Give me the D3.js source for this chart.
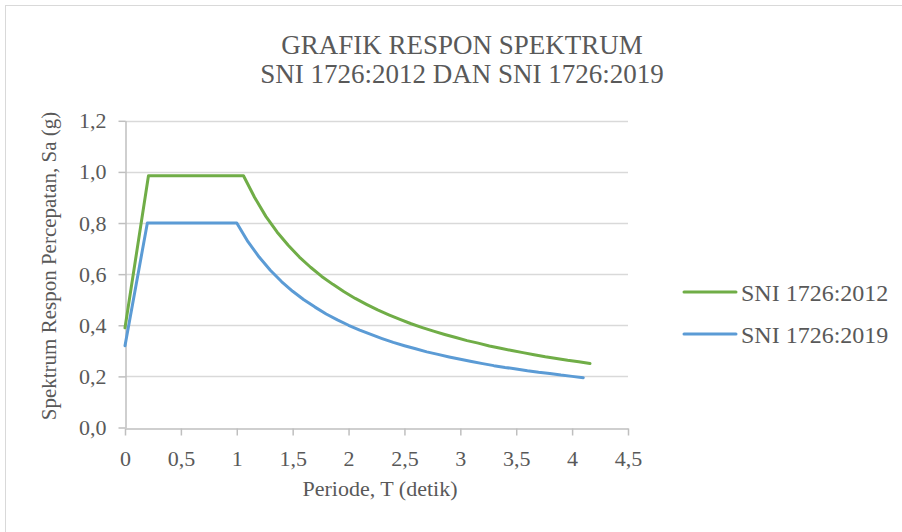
<!DOCTYPE html>
<html>
<head>
<meta charset="utf-8">
<script src="https://cdn.jsdelivr.net/npm/d3@7"></script>
<style>
  body { margin: 0; background: #fff; }
  svg text { font-family: "Liberation Serif", "Times New Roman", serif; fill: #595959; }
</style>
</head>
<body>
<div id="chart"></div>
<script>
// period T (s) and spectral acceleration Sa (g)
var t2012 = [0, 0.21, 1.06, 1.16, 1.26, 1.36, 1.46, 1.56, 1.66, 1.76, 1.86, 1.96, 2.06, 2.16, 2.26, 2.36,
  2.46, 2.56, 2.66, 2.76, 2.86, 2.96, 3.06, 3.16, 3.26, 3.36, 3.46, 3.56, 3.66, 3.76, 3.86, 3.96, 4.06, 4.16];
var sa2012 = [0.39, 0.985, 0.985, 0.90, 0.826, 0.765, 0.713, 0.667, 0.627, 0.591, 0.56, 0.531, 0.505, 0.482, 0.46, 0.441,
  0.423, 0.406, 0.391, 0.377, 0.364, 0.352, 0.34, 0.33, 0.319, 0.31, 0.301, 0.293, 0.285, 0.277, 0.27, 0.263, 0.257, 0.25];

var t2019 = [0, 0.2, 1.0, 1.1, 1.2, 1.3, 1.4, 1.5, 1.6, 1.7, 1.8, 1.9, 2.0, 2.1, 2.2, 2.3, 2.4, 2.5,
  2.6, 2.7, 2.8, 2.9, 3.0, 3.1, 3.2, 3.3, 3.4, 3.5, 3.6, 3.7, 3.8, 3.9, 4.0, 4.1];
var sa2019 = [0.32, 0.8, 0.8, 0.727, 0.667, 0.615, 0.571, 0.533, 0.5, 0.471, 0.444, 0.421, 0.4, 0.381, 0.364, 0.348, 0.333, 0.32,
  0.308, 0.296, 0.286, 0.276, 0.267, 0.258, 0.25, 0.242, 0.235, 0.229, 0.222, 0.216, 0.211, 0.205, 0.2, 0.195];

var seriesNames = ["SNI 1726:2012", "SNI 1726:2019"];
var colours = ["#70ad47", "#5b9bd5"];

var xTicks = [0, 0.5, 1, 1.5, 2, 2.5, 3, 3.5, 4, 4.5];
var xTickLabels = ["0", "0,5", "1", "1,5", "2", "2,5", "3", "3,5", "4", "4,5"];
var yTicks = [0, 0.2, 0.4, 0.6, 0.8, 1.0, 1.2];
var yTickLabels = ["0,0", "0,2", "0,4", "0,6", "0,8", "1,0", "1,2"];

var width = 902, height = 532;
var svg = d3.select("#chart").append("svg")
    .attr("width", width)
    .attr("height", height);

svg.append("rect")
    .attr("x", 5.5).attr("y", 5.5)
    .attr("width", 905).attr("height", 540)
    .attr("fill", "#fff")
    .attr("stroke", "#d9d9d9");

var x = d3.scaleLinear().domain([0, 4.5]).range([125, 628]);
var y = d3.scaleLinear().domain([0, 1.2]).range([427.5, 120.8]);

// gridlines
svg.append("g").selectAll("line")
    .data(yTicks.slice(1))
    .enter().append("line")
    .attr("x1", x(0)).attr("x2", x(4.5))
    .attr("y1", function(d) { return Math.round(y(d)) + 0.5; })
    .attr("y2", function(d) { return Math.round(y(d)) + 0.5; })
    .attr("stroke", "#d9d9d9")
    .attr("stroke-width", 1.5);

var xAxis = svg.append("g")
    .attr("transform", "translate(0," + (Math.round(y(0)) + 0.5) + ")")
    .call(d3.axisBottom(x).tickValues(xTicks)
      .tickFormat(function(d, i) { return xTickLabels[i]; })
      .tickSize(7).tickSizeOuter(0).tickPadding(16));

var yAxis = svg.append("g")
    .attr("transform", "translate(" + (Math.round(x(0)) + 0.5) + ",0)")
    .call(d3.axisLeft(y).tickValues(yTicks)
      .tickFormat(function(d, i) { return yTickLabels[i]; })
      .tickSize(7).tickSizeOuter(0).tickPadding(12));

[xAxis, yAxis].forEach(function(ax) {
  ax.attr("font-family", null);
  ax.select(".domain").attr("stroke", "#bfbfbf").attr("stroke-width", 1.5);
  ax.selectAll(".tick line").attr("stroke", "#bfbfbf").attr("stroke-width", 1.5);
  ax.selectAll(".tick text")
    .attr("fill", "#595959")
    .style("font-family", "'Liberation Serif', serif")
    .style("font-size", "22px");
});
xAxis.selectAll(".tick text").attr("dy", "0.68em");

var line = d3.line()
    .x(function(d) { return x(d[0]); })
    .y(function(d) { return y(d[1]); });

var series = [
  d3.zip(t2012, sa2012),
  d3.zip(t2019, sa2019)
];

svg.append("g").selectAll("path")
    .data(series)
    .enter().append("path")
    .attr("d", line)
    .attr("fill", "none")
    .attr("stroke", function(d, i) { return colours[i]; })
    .attr("stroke-width", 3)
    .attr("stroke-linejoin", "round")
    .attr("stroke-linecap", "round");

// title
svg.append("text")
    .attr("x", 462).attr("y", 54)
    .attr("text-anchor", "middle")
    .style("font-size", "27px")
    .text("GRAFIK RESPON SPEKTRUM");
svg.append("text")
    .attr("x", 462).attr("y", 83)
    .attr("text-anchor", "middle")
    .style("font-size", "27px")
    .text("SNI 1726:2012 DAN SNI 1726:2019");

// axis titles
svg.append("text")
    .attr("x", 380).attr("y", 496)
    .attr("text-anchor", "middle")
    .style("font-size", "22px")
    .text("Periode, T (detik)");
svg.append("text")
    .attr("transform", "translate(56,266) rotate(-90)")
    .attr("text-anchor", "middle")
    .style("font-size", "21px")
    .text("Spektrum Respon Percepatan, Sa (g)");

// legend
var legend = svg.append("g").selectAll("g")
    .data(seriesNames)
    .enter().append("g")
    .attr("transform", function(d, i) { return "translate(0," + (292 + i * 42) + ")"; });
legend.append("line")
    .attr("x1", 684).attr("x2", 736)
    .attr("stroke", function(d, i) { return colours[i]; })
    .attr("stroke-width", 3)
    .attr("stroke-linecap", "round");
legend.append("text")
    .attr("x", 741).attr("y", 9)
    .style("font-size", "24px")
    .text(function(d) { return d; });
</script>
</body>
</html>
